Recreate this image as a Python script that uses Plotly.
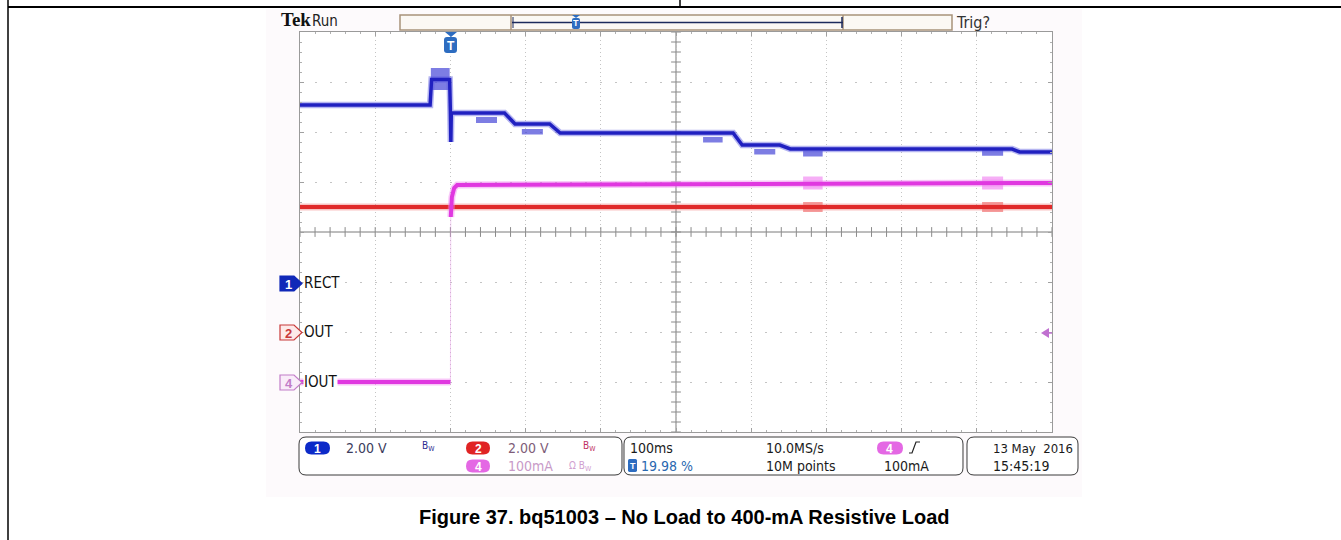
import numpy as np
import plotly.graph_objects as go

W, H = 1341, 540

# ---------------- channel data (time in ms, trigger at t = 0) ----------------
# CH1 RECT, volts (2 V/div, ground marker 1 div below centre)
rect_time = [-200, -27, -25, -1, 0, 0.6, 1.2, 72, 86, 132, 146, 376, 388, 438, 452, 747, 757, 800]
rect_volts = [7.08, 7.08, 8.1, 8.1, 6.76, 5.6, 6.76, 6.76, 6.32, 6.32, 5.96, 5.96,
              5.48, 5.48, 5.32, 5.32, 5.2, 5.2]
# CH1 regulation bursts (start ms, end ms, low V, high V)
rect_burst_start = [-26, 34, 95, 336, 404, 469, 707]
rect_burst_end = [-1, 62, 123, 362, 432, 495, 735]
rect_burst_low = [7.68, 6.36, 5.90, 5.58, 5.10, 5.02, 5.05]
rect_burst_high = [8.56, 6.60, 6.12, 5.80, 5.32, 5.24, 5.27]

# CH2 OUT, volts (2 V/div, ground marker 2 div below centre)
out_time = [-200, 800]
out_volts = [5.0, 5.0]
out_burst_start = [469, 707]
out_burst_end = [495, 735]
out_burst_low = [4.8, 4.8]
out_burst_high = [5.2, 5.2]

# CH4 IOUT, mA (100 mA/div, ground marker 3 div below centre)
iout_pre_time = [-200, 0]
iout_pre_ma = [0, 0]
iout_time = [0.5, 2, 5, 9, 800]
iout_ma = [330, 370, 388, 394, 398]
iout_burst_start = [469, 707]
iout_burst_end = [495, 735]
iout_burst_low = [385, 385]
iout_burst_high = [411, 411]

# screen setup
time_range = [-200, 800]      # 100 ms/div, trigger at 20 %
div_range = [-4, 4]
ch1_range = [-6, 10]
ch2_range = [-4, 12]
ch4_range = [-100, 700]

TEK = "DejaVu Sans Condensed, Liberation Sans Narrow, DejaVu Sans, sans-serif"
SANS = "Liberation Sans, Arial, sans-serif"

BLUE = "#2020c0"
RED = "#e02a2a"
MAG = "#e038e0"


def P(x, y):
    return f"{x / W:.5f},{1 - y / H:.5f}"


def rrect(x0, y0, x1, y1, r):
    return (f"M {P(x0 + r, y0)} L {P(x1 - r, y0)} Q {P(x1, y0)} {P(x1, y0 + r)} "
            f"L {P(x1, y1 - r)} Q {P(x1, y1)} {P(x1 - r, y1)} L {P(x0 + r, y1)} "
            f"Q {P(x0, y1)} {P(x0, y1 - r)} L {P(x0, y0 + r)} Q {P(x0, y0)} {P(x0 + r, y0)} Z")


def poly(points):
    return "M " + " L ".join(P(x, y) for x, y in points) + " Z"


shapes = []
annotations = []


def pshape(path, fill=None, line=None, lw=1, layer="above"):
    shapes.append(dict(type="path", path=path, xref="paper", yref="paper",
                       fillcolor=fill or "rgba(0,0,0,0)",
                       line=dict(color=line or "rgba(0,0,0,0)", width=lw if line else 0),
                       layer=layer))


def pline(x0, y0, x1, y1, color, width=1, layer="above"):
    shapes.append(dict(type="line", xref="paper", yref="paper",
                       x0=x0 / W, y0=1 - y0 / H, x1=x1 / W, y1=1 - y1 / H,
                       line=dict(color=color, width=width), layer=layer))


def prect(x0, y0, x1, y1, fill, line=None, lw=1, layer="above"):
    shapes.append(dict(type="rect", xref="paper", yref="paper",
                       x0=x0 / W, y0=1 - y1 / H, x1=x1 / W, y1=1 - y0 / H,
                       fillcolor=fill, line=dict(color=line or "rgba(0,0,0,0)", width=lw if line else 0),
                       layer=layer))


def text(x, y, s, size, color, family=TEK, anchor="left", bg=None):
    annotations.append(dict(x=x / W, y=1 - y / H, xref="paper", yref="paper", text=s,
                            showarrow=False, xanchor=anchor, yanchor="middle",
                            font=dict(size=size, color=color, family=family),
                            bgcolor=bg, borderpad=0))


# backdrop of the scope screen and white graticule area
prect(266, 9, 1082, 497, "#fdfafc", layer="below")
prect(300, 32, 1052, 432, "#ffffff", layer="below")

# page frame
pline(8, 0, 8, 540, "#000000", 1.5)
pline(8, 7, W, 7, "#000000", 2)
pline(680, 0, 680, 7, "#000000", 1.5)

# ---------------- header ----------------
text(280, 20, "<b>Tek</b>", 19, "#111111", family="Liberation Serif, Times New Roman, serif")
text(311, 21, "Run", 15, "#222222")
text(955, 22, "Trig?", 16, "#333333")
prect(400, 15, 952, 30, "#fbf8f4", line="#a8927a", lw=1.5)
pline(511, 15, 511, 30, "#a8927a", 1.5)
pline(843, 15, 843, 30, "#a8927a", 1.5)
pline(512, 22.5, 843, 22.5, "#1c2a5c", 1.5)
pline(842, 17, 842, 28, "#1c2a5c", 1.5)
pline(513, 17, 513, 28, "#1c2a5c", 1)
# record-view trigger icon
pshape(poly([(572, 15), (580, 15), (576, 18)]), fill="#2d6cc0")
pshape(rrect(572, 18, 580, 29, 2), fill="#2d6cc0")
text(576, 23.5, "<b>T</b>", 9, "#ffffff", family=SANS, anchor="center")

# trigger position marker on the graticule
pshape(poly([(445, 32), (457, 32), (451, 37)]), fill="#2d6cc0")
pshape(rrect(444, 37, 457, 53, 3), fill="#2d6cc0")
text(450.5, 45.5, "<b>T</b>", 12, "#ffffff", family=SANS, anchor="center")

# ---------------- channel ground markers ----------------
def badge(yc, fill, border, label, tcolor):
    pshape(poly([(280, yc - 7.5), (294, yc - 7.5), (302, yc), (294, yc + 7.5), (280, yc + 7.5)]),
           fill=fill, line=border, lw=1.2)
    text(288.5, yc + 0.5, f"<b>{label}</b>", 13, tcolor, family=SANS, anchor="center")


badge(283.5, "#1028b8", "#1028b8", "1", "#ffffff")
badge(332.5, "#fde9e9", "#c83838", "2", "#c83838")
badge(382.5, "#f9ecf9", "#c27cc8", "4", "#c27cc8")
text(303, 283, "RECT", 15, "#111111", bg="#ffffff")
text(303, 332, "OUT", 15, "#111111", bg="#ffffff")
text(303, 382, "IOUT", 15, "#111111", bg="#ffffff")

# trigger level arrow at right edge
pshape(poly([(1041, 333), (1049, 328), (1049, 338)]), fill="#c070d0")
pline(1046, 333, 1052, 333, "#c070d0", 1.5)

# ---------------- status bar ----------------
pshape(rrect(299, 437, 622, 475, 7), fill="#ffffff", line="#3a3a3a", lw=1)
pshape(rrect(624, 437, 963, 475, 7), fill="#ffffff", line="#3a3a3a", lw=1)
pshape(rrect(967, 437, 1078, 475, 7), fill="#ffffff", line="#3a3a3a", lw=1)


def pill(x0, x1, yc, fill, label):
    pshape(rrect(x0, yc - 6.5, x1, yc + 6.5, 6.5), fill=fill)
    text((x0 + x1) / 2, yc + 0.5, f"<b>{label}</b>", 12, "#ffffff", family=SANS, anchor="center")


pill(305, 330, 448, "#0c2ac8", "1")
text(345, 448, "2.00 V", 14, "#3c3c5c")
text(421, 447, "B<sub>W</sub>", 10, "#2a2a90")
pill(466, 490, 448, "#e02424", "2")
text(507, 448, "2.00 V", 14, "#7e5c78")
text(582, 447, "B<sub>W</sub>", 10, "#c03060")
pill(466, 490, 466, "#e468e4", "4")
text(507, 466, "100mA", 14, "#c89ac8")
text(568, 466, "Ω B<sub>W</sub>", 10, "#d0a0d0")

text(629, 448, "100ms", 14, "#1a1a1a")
pshape(rrect(628, 459, 637, 472, 1.5), fill="#2d6cc0")
text(632.5, 466, "<b>T</b>", 9, "#ffffff", family=SANS, anchor="center")
text(640, 466, "19.98 %", 14, "#2a68b0")
text(765, 448, "10.0MS/s", 14, "#1a1a1a")
text(765, 466, "10M points", 14, "#1a1a1a")
pill(877, 903, 448, "#e468e4", "4")
shapes.append(dict(type="path", xref="paper", yref="paper",
                   path=f"M {P(909, 453)} L {P(912, 453)} L {P(916, 442)} L {P(920, 442)}",
                   line=dict(color="#222222", width=1.2)))
text(883, 466, "100mA", 14, "#1a1a1a")
text(992, 448, "13 May\u00a0 2016", 13, "#1a1a1a")
text(992, 466, "15:45:19", 14, "#1a1a1a")

# caption
text(684, 517, "<b>Figure 37. bq51003 – No Load to 400-mA Resistive Load</b>", 20, "#000000",
     family=SANS, anchor="center")

# ---------------- figure ----------------
fig = go.Figure()

# centre cross with minor ticks
shapes.append(dict(type="line", xref="x", yref="y", x0=time_range[0], x1=time_range[1], y0=0, y1=0,
                   line=dict(color="#7a7a7a", width=1), layer="below"))
shapes.append(dict(type="line", xref="x", yref="y", x0=300, x1=300, y0=div_range[0], y1=div_range[1],
                   line=dict(color="#7a7a7a", width=1), layer="below"))
tick_t = np.arange(time_range[0], time_range[1] + 1, 20)
tick_d = np.arange(div_range[0], div_range[1] + 0.01, 0.2)
fig.add_trace(go.Scatter(x=tick_t, y=np.zeros_like(tick_t), mode="markers", yaxis="y",
                         marker=dict(symbol="line-ns", size=7, line=dict(width=1, color="#8a8a8a")),
                         hoverinfo="skip"))
fig.add_trace(go.Scatter(x=np.full_like(tick_d, 300), y=tick_d, mode="markers", yaxis="y",
                         marker=dict(symbol="line-ew", size=7, line=dict(width=1, color="#8a8a8a")),
                         hoverinfo="skip"))


def bursts(starts, ends, lows, highs, axis, color):
    for t0, t1, lo, hi in zip(starts, ends, lows, highs):
        fig.add_trace(go.Scatter(x=[t0, t1, t1, t0, t0], y=[lo, lo, hi, hi, lo], yaxis=axis,
                                 mode="lines", fill="toself", fillcolor=color,
                                 line=dict(width=0), hoverinfo="skip"))


def trace(t, v, axis, core, halo, width):
    fig.add_trace(go.Scatter(x=t, y=v, yaxis=axis, mode="lines",
                             line=dict(color=halo, width=width + 3), hoverinfo="skip"))
    fig.add_trace(go.Scatter(x=t, y=v, yaxis=axis, mode="lines",
                             line=dict(color=core, width=width), hoverinfo="skip"))


# CH2 OUT
bursts(out_burst_start, out_burst_end, out_burst_low, out_burst_high, "y3", "rgba(238,90,90,0.6)")
trace(out_time, out_volts, "y3", RED, "rgba(240,120,120,0.45)", 4)

# CH4 IOUT
bursts(iout_burst_start, iout_burst_end, iout_burst_low, iout_burst_high, "y4", "rgba(238,110,238,0.55)")
fig.add_trace(go.Scatter(x=[iout_pre_time[-1], iout_time[0]], y=[iout_pre_ma[-1], iout_ma[0]],
                         yaxis="y4", mode="lines", line=dict(color="rgba(230,150,230,0.45)", width=1),
                         hoverinfo="skip"))
trace(iout_pre_time, iout_pre_ma, "y4", MAG, "rgba(240,130,240,0.45)", 4)
trace(iout_time, iout_ma, "y4", MAG, "rgba(240,130,240,0.45)", 4)

# CH1 RECT
bursts(rect_burst_start, rect_burst_end, rect_burst_low, rect_burst_high, "y2", "rgba(70,70,215,0.7)")
trace(rect_time, rect_volts, "y2", BLUE, "rgba(90,90,225,0.45)", 3.5)

axis_common = dict(showticklabels=False, zeroline=False, fixedrange=True, showline=True,
                   linecolor="#9a9a9a", linewidth=1, mirror="ticks", ticks="inside",
                   tickcolor="#a0a0a0", ticklen=4, showgrid=True, gridcolor="#c4c4c4", gridwidth=1)

fig.update_layout(
    width=W, height=H, autosize=False,
    margin=dict(l=0, r=0, t=0, b=0),
    paper_bgcolor="#ffffff", plot_bgcolor="#ffffff",
    showlegend=False,
    xaxis=dict(domain=[300 / W, 1052 / W], range=time_range, dtick=100, tick0=-200,
               griddash="1px,3px",
               minor=dict(dtick=20, tick0=-200, ticks="inside", ticklen=2, tickcolor="#b0b0b0",
                          showgrid=False),
               **axis_common),
    yaxis=dict(domain=[1 - 432 / H, 1 - 32 / H], range=div_range, dtick=1, tick0=-4,
               griddash="2px,13px",
               minor=dict(dtick=0.2, tick0=-4, ticks="inside", ticklen=2, tickcolor="#b0b0b0",
                          showgrid=False),
               **axis_common),
    yaxis2=dict(overlaying="y", anchor="x", range=ch1_range, visible=False, fixedrange=True),
    yaxis3=dict(overlaying="y", anchor="x", range=ch2_range, visible=False, fixedrange=True),
    yaxis4=dict(overlaying="y", anchor="x", range=ch4_range, visible=False, fixedrange=True),
    shapes=shapes,
    annotations=annotations,
)

fig.write_html("out.html")
